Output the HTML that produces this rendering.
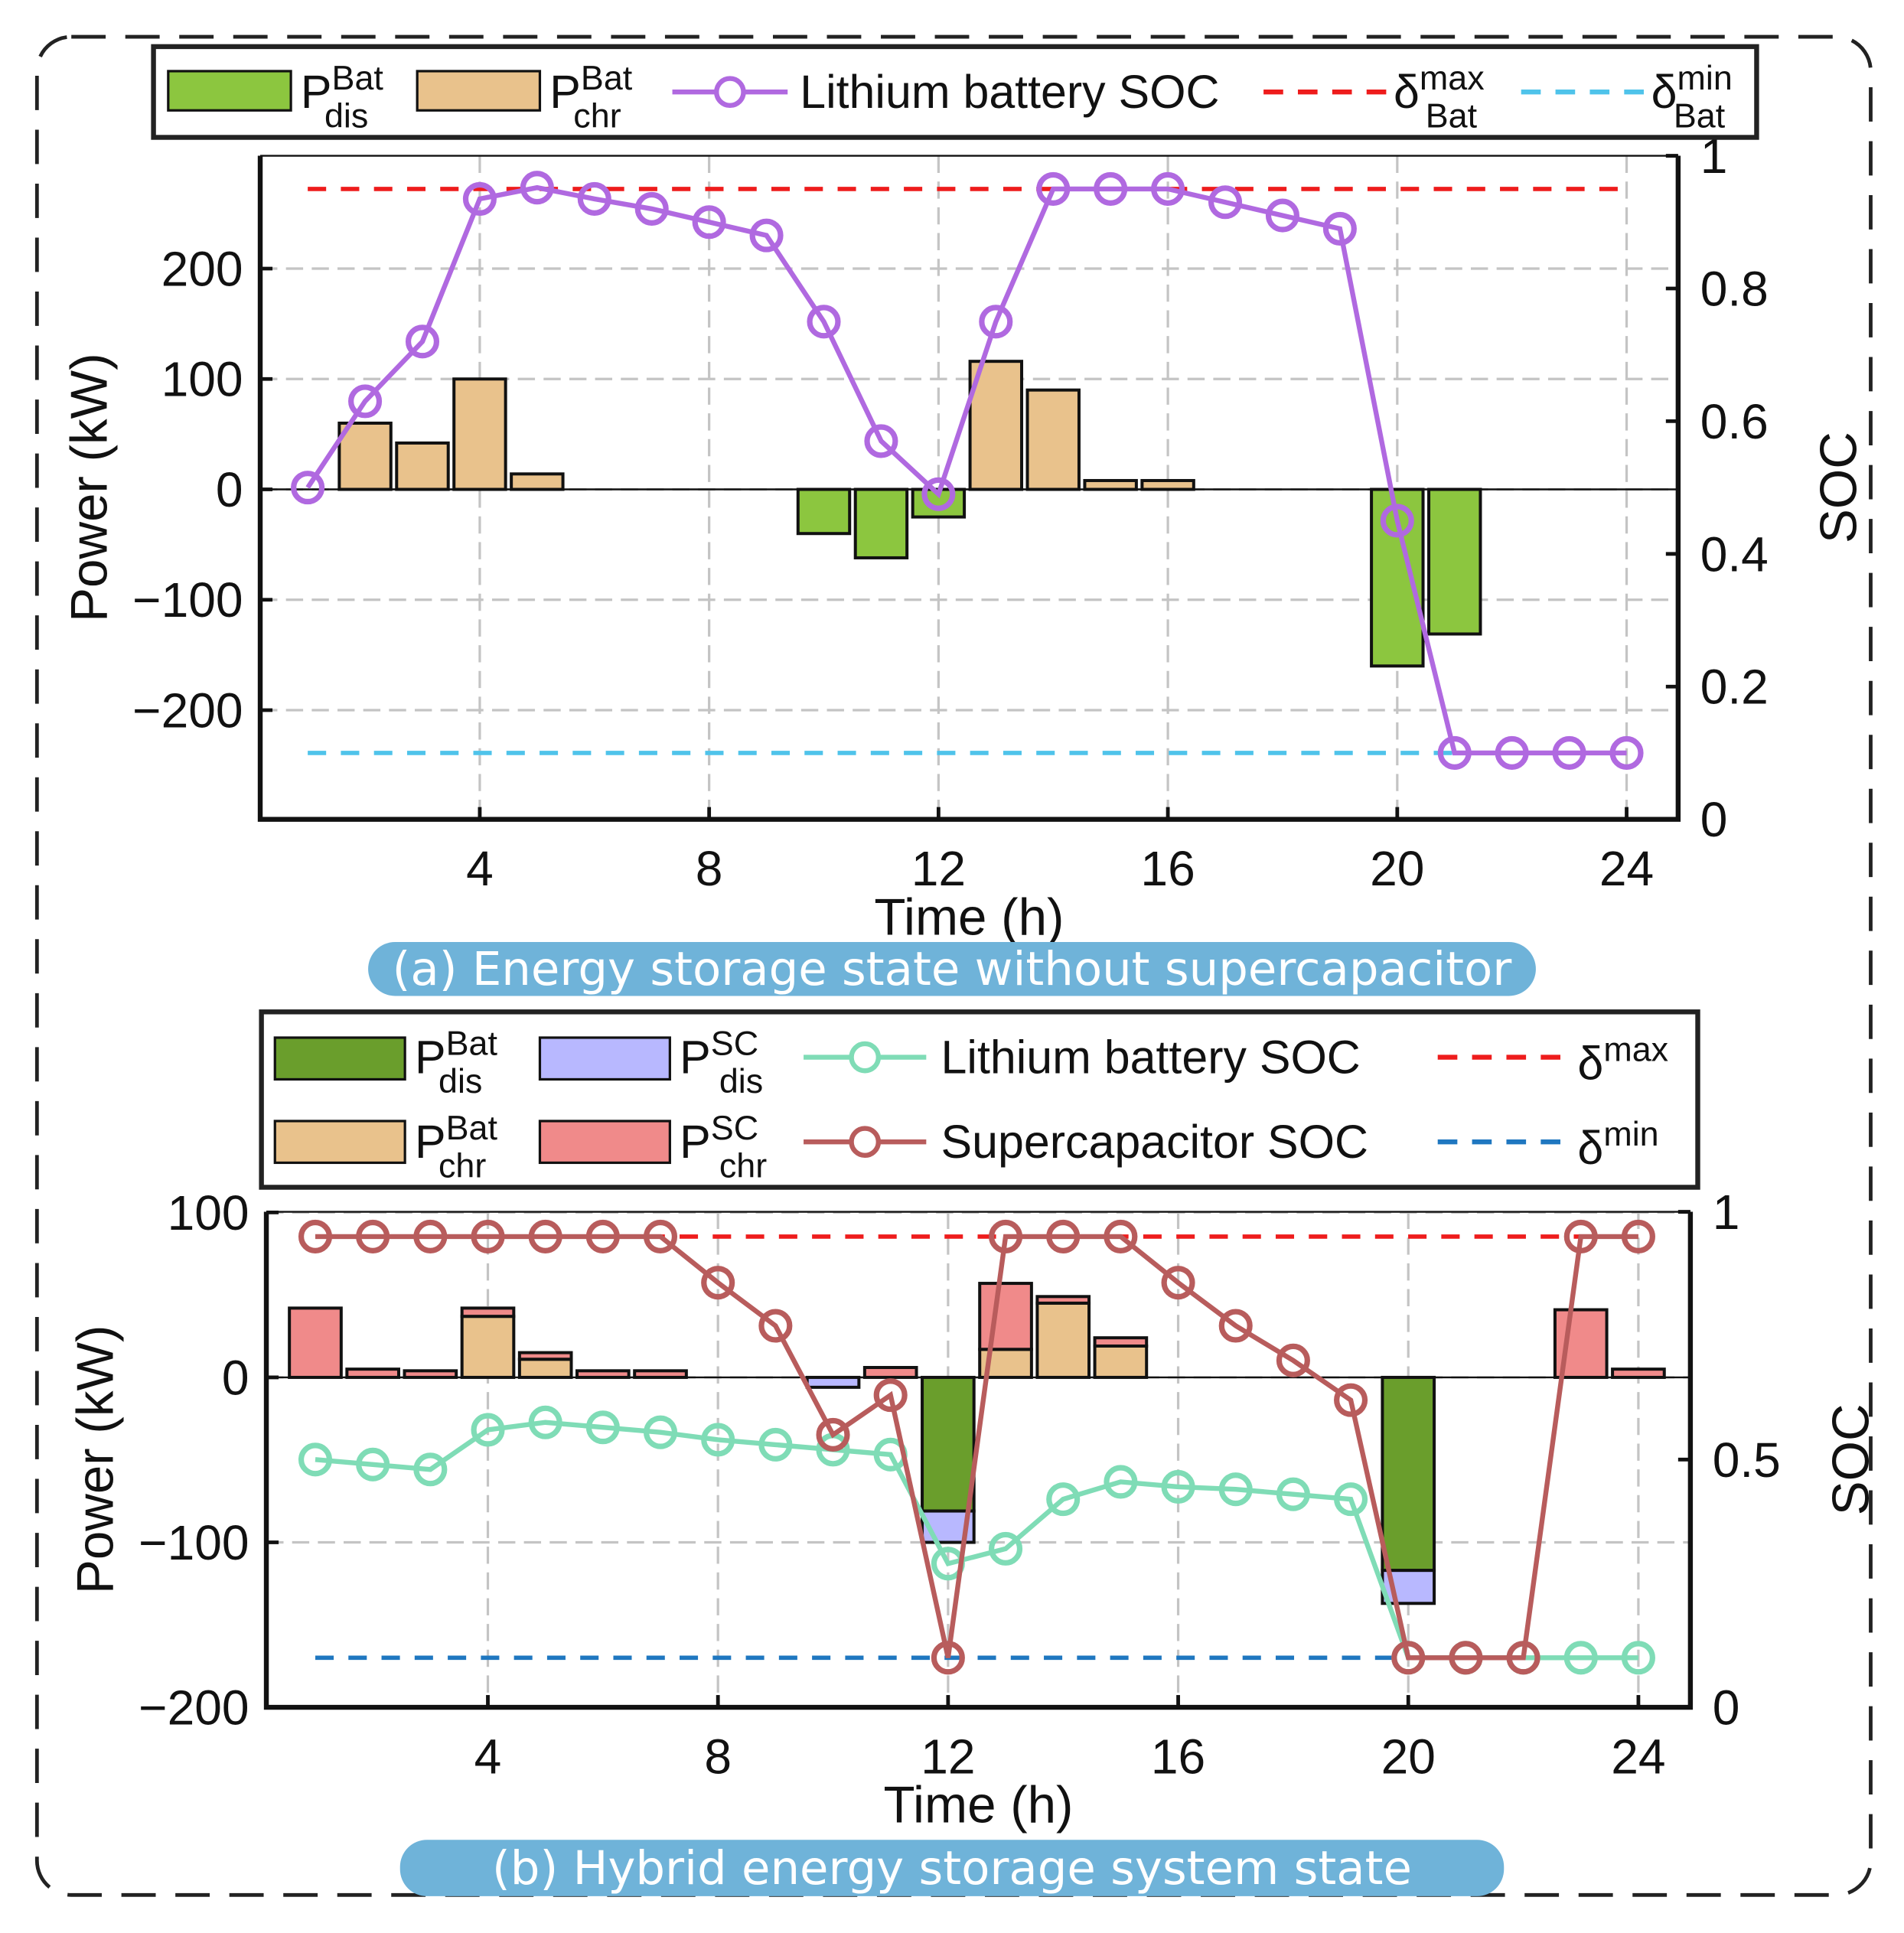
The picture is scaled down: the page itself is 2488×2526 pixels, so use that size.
<!DOCTYPE html>
<html><head><meta charset="utf-8"><style>
html,body{margin:0;padding:0;background:#fff;}
svg{display:block;font-family:"Liberation Sans",Arial,sans-serif;}
</style></head><body>
<svg id="fig" xmlns="http://www.w3.org/2000/svg" width="2488" height="2526" viewBox="0 0 1552 1576"></svg>
<script>
// ===== Data: panel (a) =====
const hours = [1,2,3,4,5,6,7,8,9,10,11,12,13,14,15,16,17,18,19,20,21,22,23,24];
const aBatChr = [0,60,42,100,14,0,0,0,0,0,0,0,116,90,8,8,0,0,0,0,0,0,0,0];
const aBatDis = [0,0,0,0,0,0,0,0,0,-40,-62,-25,0,0,0,0,0,0,0,-160,-131,0,0,0];
const aSOC = [0.5,0.63,0.72,0.935,0.952,0.935,0.92,0.90,0.88,0.75,0.57,0.49,0.75,0.95,0.95,0.95,0.93,0.91,0.89,0.45,0.1,0.1,0.1,0.1];
const aDeltaMax = 0.95, aDeltaMin = 0.1;
const aPowerTicks = [-200,-100,0,100,200];
const aSocTicks = [0,0.2,0.4,0.6,0.8,1];
const timeTicks = [4,8,12,16,20,24];
// ===== Data: panel (b) =====
const bBatChr = [0,0,0,37,11,0,0,0,0,0,0,0,17,45,19,0,0,0,0,0,0,0,0,0];
const bScChr  = [42,5,4,5,4,4,4,0,0,0,6,0,40,4,5,0,0,0,0,0,0,0,41,5];
const bBatDis = [0,0,0,0,0,0,0,0,0,0,0,-81,0,0,0,0,0,0,0,-117,0,0,0,0];
const bScDis  = [0,0,0,0,0,0,0,0,0,-6,0,-19,0,0,0,0,0,0,0,-20,0,0,0,0];
const bBatSOC = [0.5,0.49,0.48,0.56,0.575,0.565,0.555,0.54,0.53,0.52,0.51,0.29,0.32,0.42,0.455,0.445,0.44,0.43,0.42,0.1,0.1,0.1,0.1,0.1];
const bScSOC  = [0.95,0.95,0.95,0.95,0.95,0.95,0.95,0.857,0.77,0.55,0.63,0.1,0.95,0.95,0.95,0.857,0.77,0.70,0.62,0.1,0.1,0.1,0.95,0.95];
const bDeltaMax = 0.95, bDeltaMin = 0.1;
const bPowerTicks = [-200,-100,0,100];
const bSocTicks = [0,0.5,1];

const NS="http://www.w3.org/2000/svg";
const svg=document.getElementById('fig');
function el(tag,attrs,parent,text){const e=document.createElementNS(NS,tag);for(const k in attrs)e.setAttribute(k,attrs[k]);if(text!==undefined)e.textContent=text;(parent||svg).appendChild(e);return e;}

const frame = el('rect',{x:30,y:30,width:1495,height:1515,rx:28,fill:'none',stroke:'#222','stroke-width':3,'stroke-dasharray':'28,16'});



function panel(cfg){
  const g=el('g',{});
  
  
  const xs=h=>cfg.x0+cfg.xk*h;
  const yp=v=>cfg.y0-cfg.yk*v;
  const ys=s=>cfg.bottom-(cfg.bottom-cfg.top)*s;
  cfg.pTicks.forEach(v=>{const l=el('line',{x1:cfg.left,x2:cfg.right,y1:yp(v),y2:yp(v),stroke:'#c4c4c4','stroke-width':2,'stroke-dasharray':'14,7'},g);
    });
  timeTicks.forEach(t=>{const l=el('line',{x1:xs(t),x2:xs(t),y1:cfg.top,y2:cfg.bottom,stroke:'#c4c4c4','stroke-width':2,'stroke-dasharray':'14,7'},g);
    });
  const bw=cfg.xk*0.9;
  cfg.stacks.forEach(st=>{
    hours.forEach((h,i)=>{
      const v=st.vals[i]; if(!v) return;
      const base = st.base? st.base[i]:0;
      const y1=yp(base), y2=yp(base+v);
      const r=el('rect',{x:xs(h)-bw/2,y:Math.min(y1,y2),width:bw,height:Math.abs(y2-y1),fill:st.color,stroke:'#111','stroke-width':2.5},g);
      
      
    });
  });
  const z=el('line',{x1:cfg.left,x2:cfg.right,y1:yp(0),y2:yp(0),stroke:'#111','stroke-width':1.5},g);
  
  [[cfg.dmax,'#ee1c1c','delta-max-line'],[cfg.dmin,cfg.minColor,'delta-min-line']].forEach(d=>{
    const l=el('line',{x1:xs(1),x2:xs(24),y1:ys(d[0]),y2:ys(d[0]),stroke:d[1],'stroke-width':3.5,'stroke-dasharray':'15,12'},g);
    
  });
  cfg.socs.forEach(s=>{
    const pts=hours.map((h,i)=>xs(h)+','+ys(s.vals[i])).join(' ');
    const pl=el('polyline',{points:pts,fill:'none',stroke:s.color,'stroke-width':4},g);
    
    hours.forEach((h,i)=>{const c=el('circle',{cx:xs(h),cy:ys(s.vals[i]),r:11.5,fill:'none',stroke:s.color,'stroke-width':4.5},g);
      });
  });
  const ax=el('path',{d:`M${cfg.left},${cfg.top} V${cfg.bottom} H${cfg.right} V${cfg.top}`,fill:'none',stroke:'#111','stroke-width':4},g);
  
  const tp=el('line',{x1:cfg.left,x2:cfg.right,y1:cfg.top,y2:cfg.top,stroke:'#111','stroke-width':1.5},g);
  
  cfg.pTicks.forEach(v=>{
    el('line',{x1:cfg.left,x2:cfg.left+10,y1:yp(v),y2:yp(v),stroke:'#111','stroke-width':3},g);
    const t=el('text',{x:cfg.left-14,y:yp(v)+14,'text-anchor':'end','font-size':40,fill:'#111'},g,v<0?'\u2212'+(-v):String(v));
    
  });
  cfg.sTicks.forEach(v=>{
    el('line',{x1:cfg.right-10,x2:cfg.right,y1:ys(v),y2:ys(v),stroke:'#111','stroke-width':3},g);
    const t=el('text',{x:cfg.right+18,y:ys(v)+14,'font-size':40,fill:'#111'},g,String(v));
    
  });
  timeTicks.forEach(v=>{
    el('line',{x1:xs(v),x2:xs(v),y1:cfg.bottom,y2:cfg.bottom-10,stroke:'#111','stroke-width':3},g);
    const t=el('text',{x:xs(v),y:cfg.bottom+54,'text-anchor':'middle','font-size':40,fill:'#111'},g,String(v));
    
  });
  const xt=el('text',{x:(cfg.left+cfg.right)/2,y:cfg.bottom+94,'text-anchor':'middle','font-size':42,fill:'#111'},g,'Time (h)');
  
  const cy=(cfg.top+cfg.bottom)/2;
  const yt=el('text',{x:0,y:0,transform:`translate(${cfg.left-125},${cy}) rotate(-90)`,'text-anchor':'middle','font-size':42,fill:'#111'},g,'Power (kW)');
  
  const st=el('text',{x:0,y:0,transform:`translate(${cfg.right+145},${cy}) rotate(-90)`,'text-anchor':'middle','font-size':42,fill:'#111'},g,'SOC');
  
}

panel({name:'panel-a',left:212,right:1368,top:127,bottom:668,x0:204,xk:46.75,y0:399,yk:0.9,
  pTicks:aPowerTicks,sTicks:aSocTicks,dmax:aDeltaMax,dmin:aDeltaMin,minColor:'#4fc3ea',
  stacks:[{name:'a-bat-chr',vals:aBatChr,color:'#e9c28c'},{name:'a-bat-dis',vals:aBatDis,color:'#8cc63f'}],
  socs:[{name:'a-battery-soc',vals:aSOC,color:'#b069e0'}]});
panel({name:'panel-b',left:217,right:1378,top:988,bottom:1392,x0:210,xk:46.9,y0:1123,yk:1.345,
  pTicks:bPowerTicks,sTicks:bSocTicks,dmax:bDeltaMax,dmin:bDeltaMin,minColor:'#1f77c0',
  stacks:[{name:'b-bat-chr',vals:bBatChr,color:'#e9c28c'},{name:'b-sc-chr',vals:bScChr,base:bBatChr,color:'#f08a8a'},
          {name:'b-bat-dis',vals:bBatDis,color:'#6a9e2c'},{name:'b-sc-dis',vals:bScDis,base:bBatDis,color:'#b8b8ff'}],
  socs:[{name:'b-battery-soc',vals:bBatSOC,color:'#7fdcb6'},{name:'b-supercap-soc',vals:bScSOC,color:'#b85c5c'}]});

function legendBox(name,x,y,w,h){const r=el('rect',{x,y,width:w,height:h,fill:'#fff',stroke:'#222','stroke-width':4});}
function sym(name,x,y,base,sup,sub){const t=el('text',{x,y,'font-size':38,fill:'#111'},undefined);
  el('tspan',{},t,base);el('tspan',{dy:-15,'font-size':28},t,sup);
  el('tspan',{dx:-(sup.length*16),dy:31,'font-size':28},t,sub);return t;}
function swatch(name,x,y,w,h,color){const r=el('rect',{x,y,width:w,height:h,fill:color,stroke:'#111','stroke-width':2});}
function dline(name,x1,x2,y,color){const l=el('line',{x1,x2,y1:y,y2:y,stroke:color,'stroke-width':4,'stroke-dasharray':'16,12'});}
function mline(name,x1,x2,y,color){const l=el('line',{x1,x2,y1:y,y2:y,stroke:color,'stroke-width':4});
  const c=el('circle',{cx:(x1+x2)/2,cy:y,r:11,fill:'#fff',stroke:color,'stroke-width':4});}
function txt(name,x,y,s,size){const t=el('text',{x,y,'font-size':size||38,fill:'#111'},undefined,s);}

legendBox('legend-a',125,38,1307,74);
swatch('legend-a-dis-swatch',137,58,100,32,'#8cc63f'); sym('legend-a-dis-label',245,88,'P','Bat','dis');
swatch('legend-a-chr-swatch',340,58,100,32,'#e9c28c'); sym('legend-a-chr-label',448,88,'P','Bat','chr');
mline('legend-a-soc-line',548,642,75,'#b069e0'); txt('legend-a-soc-label',652,88,'Lithium battery SOC');
dline('legend-a-max-line',1030,1130,75,'#ee1c1c'); sym('legend-a-max-label',1136,88,'\u03b4','max','Bat');
dline('legend-a-min-line',1240,1340,75,'#4fc3ea'); sym('legend-a-min-label',1346,88,'\u03b4','min','Bat');

legendBox('legend-b',213,825,1171,143);
swatch('legend-b-bat-dis-swatch',224,846,106,34,'#6a9e2c'); sym('legend-b-bat-dis-label',338,875,'P','Bat','dis');
swatch('legend-b-sc-dis-swatch',440,846,106,34,'#b8b8ff'); sym('legend-b-sc-dis-label',554,875,'P','SC','dis');
mline('legend-b-bat-soc-line',655,755,862,'#7fdcb6'); txt('legend-b-bat-soc-label',767,875,'Lithium battery SOC');
dline('legend-b-max-line',1172,1280,862,'#ee1c1c'); sym('legend-b-max-label',1286,880,'\u03b4','max','');
swatch('legend-b-bat-chr-swatch',224,914,106,34,'#e9c28c'); sym('legend-b-bat-chr-label',338,944,'P','Bat','chr');
swatch('legend-b-sc-chr-swatch',440,914,106,34,'#f08a8a'); sym('legend-b-sc-chr-label',554,944,'P','SC','chr');
mline('legend-b-sc-soc-line',655,755,931,'#b85c5c'); txt('legend-b-sc-soc-label',767,944,'Supercapacitor SOC');
dline('legend-b-min-line',1172,1280,931,'#1f77c0'); sym('legend-b-min-label',1286,949,'\u03b4','min','');

function caption(name,x,y,w,h,s){const r=el('rect',{x,y,width:w,height:h,rx:22,fill:'#6fb3d9'});
  const t=el('text',{x:x+w/2,y:y+h/2+13,'text-anchor':'middle','font-size':38,fill:'#fff','font-family':'DejaVu Sans, Liberation Sans, sans-serif'},undefined,s);}
caption('caption-a',300,768,952,44,'(a) Energy storage state without supercapacitor');
caption('caption-b',326,1500,900,46,'(b) Hybrid energy storage system state');
</script>
</body></html>
